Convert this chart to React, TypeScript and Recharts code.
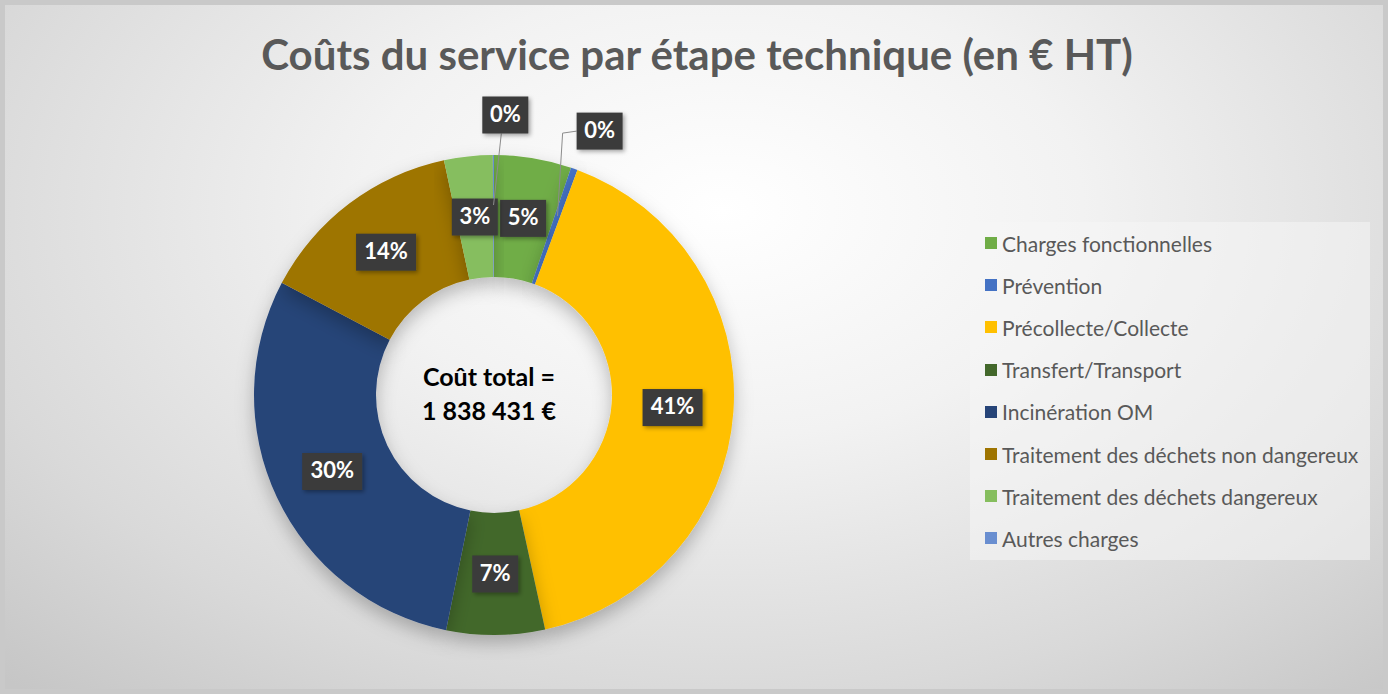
import { PieChart, Pie, Cell, Legend } from 'recharts'

const CATEGORIES = [
  'Charges fonctionnelles',
  'Prévention',
  'Précollecte/Collecte',
  'Transfert/Transport',
  'Incinération OM',
  'Traitement des déchets non dangereux',
  'Traitement des déchets dangereux',
  'Autres charges',
]
// euros HT (total 1 838 431 €)
const COSTS = [95600, 8300, 752500, 121700, 543000, 255900, 60000, 1431]
const COLORS = ['#70AD47', '#4472C4', '#FFC000', '#43682B', '#264478', '#9E7400', '#86BE5E', '#698ED0']

const TITLE = 'Coûts du service par étape technique (en € HT)'
const CENTER_LINES = ['Coût total =', '1 838 431 €']

const data = CATEGORIES.map((name, i) => ({ name, value: COSTS[i] }))

const RADIAN = Math.PI / 180
const FONT = 'Lato, "Open Sans", sans-serif'

// dark boxed percentage labels; tiny slices get pushed outside with a leader line
function renderLabel(props: any) {
  const { cx, cy, midAngle, innerRadius, outerRadius, percent, index } = props
  const pct = Math.round(percent * 100)
  const text = `${pct}%`
  const w = text.length === 3 ? 60 : 46
  const h = 37
  const cos = Math.cos(-midAngle * RADIAN)
  const sin = Math.sin(-midAngle * RADIAN)
  const outside = percent < 0.01
  let x: number, y: number
  let line: string | null = null
  if (outside) {
    x = cx + 280 * cos + 12
    y = cy + 280 * sin
    const ex = cx + 190 * cos
    const ey = cy + 190 * sin
    if (ex < x - w / 2) {
      line = `${x - w / 2},${y} ${x - w / 2 - 14},${y + 2} ${ex},${ey}`
    } else {
      line = `${x - 4},${y + h / 2} ${ex},${ey}`
    }
  } else {
    const r = (innerRadius + outerRadius) / 2
    x = cx + r * cos
    y = cy + r * sin
  }
  return (
    <g key={`lbl-${index}`}>
      {line && <polyline points={line} fill="none" stroke="#8c8c8c" strokeWidth={1} />}
      <rect x={x - w / 2} y={y - h / 2} width={w} height={h} fill="#3b3b3b" filter="url(#boxShadow)" />
      <text x={x} y={y + 1} fill="#ffffff" fontFamily={FONT} fontWeight={700} fontSize={22}
        textAnchor="middle" dominantBaseline="middle">
        {text}
      </text>
    </g>
  )
}

function renderLegend() {
  return (
    <div style={{ width: 400, height: 338, background: 'rgba(245,245,245,0.55)', boxSizing: 'border-box' }}>
      {CATEGORIES.map((name, i) => (
        <div key={name} style={{ display: 'flex', alignItems: 'center', height: 42.2, paddingLeft: 15 }}>
          <span style={{ width: 12, height: 12, background: COLORS[i], marginRight: 5, display: 'inline-block' }} />
          <span style={{ fontFamily: FONT, fontSize: 21, color: '#595959' }}>{name}</span>
        </div>
      ))}
    </div>
  )
}

export default function App() {
  return (
    <div style={{ position: 'absolute', left: 0, top: 0, width: 1388, height: 694, background: '#c9c9c9' }}>
      <svg width={0} height={0} style={{ position: 'absolute' }}>
        <defs>
          <filter id="boxShadow" x="-30%" y="-30%" width="170%" height="170%">
            <feDropShadow dx={2} dy={2} stdDeviation={2} floodColor="#000" floodOpacity={0.35} />
          </filter>
          <filter id="pieShadow" x="-20%" y="-20%" width="140%" height="140%">
            <feDropShadow dx={0} dy={8} stdDeviation={9} floodColor="#000" floodOpacity={0.25} />
          </filter>
        </defs>
      </svg>
      <div style={{
        position: 'absolute', left: 5, top: 5, width: 1378, height: 684,
        background: 'radial-gradient(ellipse 75% 95% at 52% 30%, #ffffff 0%, #f2f2f2 35%, #d9d9d9 75%, #c6c6c6 100%)',
      }} />
      <div style={{
        position: 'absolute', left: 0, top: 29, width: 1394, textAlign: 'center',
        fontFamily: FONT, fontWeight: 700, fontSize: 42, color: '#595959',
      }}>
        {TITLE}
      </div>
      <div style={{ position: 'absolute', left: 0, top: 0 }}>
        <PieChart width={1388} height={694}>
          <Pie
            data={data}
            dataKey="value"
            nameKey="name"
            cx={489}
            cy={390}
            innerRadius={118}
            outerRadius={240}
            startAngle={90}
            endAngle={-270}
            stroke="none"
            label={renderLabel}
            labelLine={false}
            isAnimationActive={false}
            style={{ filter: 'url(#pieShadow)' }}
          >
            {data.map((_, i) => (
              <Cell key={i} fill={COLORS[i]} />
            ))}
          </Pie>
          <Legend
            layout="vertical"
            content={renderLegend}
            wrapperStyle={{ position: 'absolute', left: 970, top: 222, width: 400 }}
          />
          <text x={489} y={386} textAnchor="middle" fontFamily={FONT} fontWeight={700} fontSize={25} fill="#000">
            {CENTER_LINES[0]}
          </text>
          <text x={489} y={420} textAnchor="middle" fontFamily={FONT} fontWeight={700} fontSize={25} fill="#000">
            {CENTER_LINES[1]}
          </text>
        </PieChart>
      </div>
    </div>
  )
}
